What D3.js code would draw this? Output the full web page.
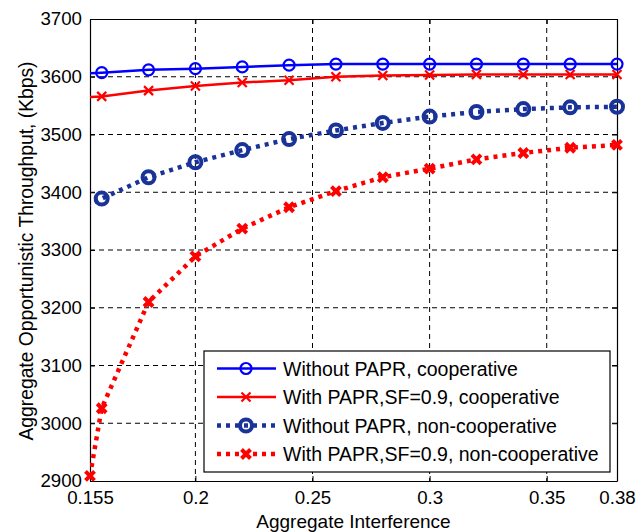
<!DOCTYPE html>
<html>
<head>
<meta charset="utf-8">
<script src="https://cdn.jsdelivr.net/npm/d3@7"></script>
<style>
  html, body { margin: 0; padding: 0; background: #fff; }
  svg { display: block; font-family: "Liberation Sans", Arial, Helvetica, sans-serif; }
</style>
</head>
<body>
<svg id="chart" width="639" height="532"></svg>
<script>
// ---- data ----
const xMain = [0.15, 0.16, 0.18, 0.20, 0.22, 0.24, 0.26, 0.28, 0.30, 0.32, 0.34, 0.36, 0.38];
const xRedDotted = [0.155, 0.16, 0.18, 0.20, 0.22, 0.24, 0.26, 0.28, 0.30, 0.32, 0.34, 0.36, 0.38];
const blueCoop = [3605, 3607, 3612, 3614, 3617, 3620, 3622, 3622, 3622, 3622, 3622, 3622, 3622];
const redCoop = [3564, 3566, 3576, 3584, 3590, 3594, 3600, 3602, 3603, 3604, 3604, 3604, 3604];
const blueNonCoop = [3370, 3389, 3426, 3452, 3473, 3492, 3507, 3520, 3531, 3539, 3544, 3547, 3548];
const redNonCoop = [2909, 3026, 3210, 3289, 3337, 3374, 3402, 3426, 3441, 3457, 3468, 3477, 3482];
const xTicks = [0.155, 0.2, 0.25, 0.3, 0.35, 0.38];
const xTickLabels = ["0.155", "0.2", "0.25", "0.3", "0.35", "0.38"];
const yTicks = [2900, 3000, 3100, 3200, 3300, 3400, 3500, 3600, 3700];
const legendLabels = [
  "Without PAPR, cooperative",
  "With PAPR,SF=0.9, cooperative",
  "Without PAPR, non-cooperative",
  "With PAPR,SF=0.9, non-cooperative"
];

// ---- layout ----
const L = 90, R = 617, T = 19, B = 481;
const svg = d3.select("#chart");
const x = d3.scaleLinear().domain([0.155, 0.38]).range([L, R]);
const y = d3.scaleLinear().domain([2900, 3700]).range([B, T]);

svg.append("defs").append("clipPath").attr("id", "clip")
  .append("rect").attr("x", L).attr("y", T).attr("width", R - L).attr("height", B - T);

// grid
const grid = svg.append("g");
grid.selectAll(".gx").data(xTicks.filter(d => d > 0.155 && d < 0.38)).enter().append("line")
  .attr("x1", d => x(d)).attr("x2", d => x(d)).attr("y1", T).attr("y2", B)
  .attr("stroke", "#000").attr("stroke-width", 1).attr("stroke-dasharray", "5,4");
grid.selectAll(".gy").data(yTicks.filter(d => d > 2900 && d < 3700)).enter().append("line")
  .attr("x1", L).attr("x2", R).attr("y1", d => y(d)).attr("y2", d => y(d))
  .attr("stroke", "#000").attr("stroke-width", 1).attr("stroke-dasharray", "5,4");

// axes (MATLAB style: inward ticks on all four sides)
const fontTick = 18.7;
const axB = svg.append("g").attr("transform", `translate(0,${B})`)
  .call(d3.axisBottom(x).tickValues(xTicks).tickFormat((d, i) => xTickLabels[i]).tickSizeInner(-5).tickSizeOuter(0).tickPadding(10));
const axT = svg.append("g").attr("transform", `translate(0,${T})`)
  .call(d3.axisTop(x).tickValues(xTicks).tickFormat("").tickSizeInner(-5).tickSizeOuter(0));
const axL = svg.append("g").attr("transform", `translate(${L},0)`)
  .call(d3.axisLeft(y).tickValues(yTicks).tickFormat(d3.format("d")).tickSizeInner(-5).tickSizeOuter(0).tickPadding(8));
const axR = svg.append("g").attr("transform", `translate(${R},0)`)
  .call(d3.axisRight(y).tickValues(yTicks).tickFormat("").tickSizeInner(-5).tickSizeOuter(0));
[axB, axT, axL, axR].forEach(a => {
  a.select(".domain").attr("stroke", "#000").attr("stroke-width", 1.2);
  a.selectAll(".tick line").attr("stroke", "#000");
  a.selectAll("text").attr("font-size", fontTick).attr("fill", "#000")
    .attr("font-family", "'Liberation Sans', Arial, sans-serif");
});

// series
const series = [
  { xs: xMain, ys: blueCoop, color: "#0000ff", width: 2.5, dash: null, marker: "o", r: 5.5, mw: 2.2 },
  { xs: xMain, ys: redCoop, color: "#ff0000", width: 2.5, dash: null, marker: "x", r: 4.5, mw: 2.2 },
  { xs: xMain, ys: blueNonCoop, color: "#1a3399", width: 4.5, dash: "4,5", marker: "o", r: 6, mw: 4 },
  { xs: xRedDotted, ys: redNonCoop, color: "#ff0000", width: 4.5, dash: "4,5", marker: "x", r: 4.5, mw: 4 }
];

const lineGen = d3.line().x(d => x(d[0])).y(d => y(d[1]));
const plot = svg.append("g");

function drawMarker(g, type, cx, cy, s) {
  if (type === "o") {
    g.append("circle").attr("cx", cx).attr("cy", cy).attr("r", s.r)
      .attr("fill", "none").attr("stroke", s.color).attr("stroke-width", s.mw);
  } else {
    const r = s.r;
    g.append("path").attr("d", `M${cx - r},${cy - r}L${cx + r},${cy + r}M${cx - r},${cy + r}L${cx + r},${cy - r}`)
      .attr("stroke", s.color).attr("stroke-width", s.mw).attr("fill", "none");
  }
}

series.forEach(s => {
  const pts = s.xs.map((v, i) => [v, s.ys[i]]);
  const ln = plot.append("path").datum(pts).attr("d", lineGen)
    .attr("clip-path", "url(#clip)")
    .attr("fill", "none").attr("stroke", s.color).attr("stroke-width", s.width);
  if (s.dash) ln.attr("stroke-dasharray", s.dash);
  const mg = plot.append("g");
  pts.filter(p => p[0] >= 0.155 - 1e-9).forEach(p => drawMarker(mg, s.marker, x(p[0]), y(p[1]), s));
});

// labels
svg.append("text").attr("x", (L + R) / 2).attr("y", 528).attr("text-anchor", "middle")
  .attr("font-size", 19).text("Aggregate Interference");
svg.append("text").attr("transform", `translate(33,${(T + B) / 2 + 1}) rotate(-90)`)
  .attr("text-anchor", "middle").attr("font-size", 19.3).text("Aggregate Opportunistic Throughput, (Kbps)");

// legend
const lg = svg.append("g");
const lx0 = 204, ly0 = 351, lw = 406, lh = 121;
lg.append("rect").attr("x", lx0).attr("y", ly0).attr("width", lw).attr("height", lh)
  .attr("fill", "#fff").attr("stroke", "#000").attr("stroke-width", 1.2);
const rowY = i => ly0 + 17.5 + i * 28.5;
series.forEach((s, i) => {
  const yy = rowY(i);
  const l = lg.append("line").attr("x1", lx0 + 13).attr("x2", lx0 + 72).attr("y1", yy).attr("y2", yy)
    .attr("stroke", s.color).attr("stroke-width", s.width);
  if (s.dash) l.attr("stroke-dasharray", s.dash);
  drawMarker(lg, s.marker, lx0 + 42, yy, s);
  lg.append("text").attr("x", lx0 + 79).attr("y", yy + 7).attr("font-size", 19.5).text(legendLabels[i]);
});
</script>
</body>
</html>
